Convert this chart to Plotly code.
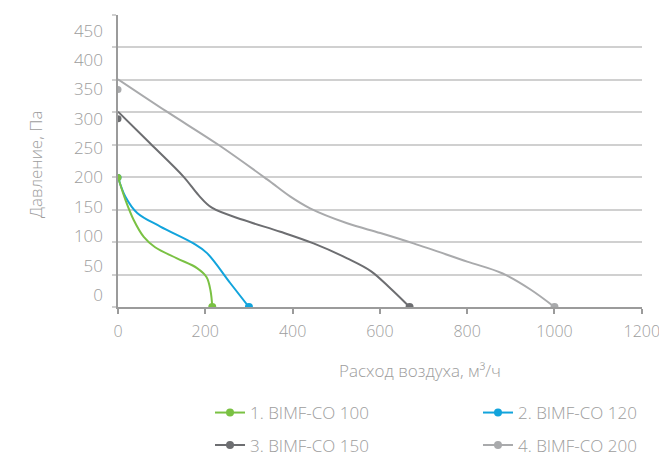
import plotly.graph_objects as go

# series names and colours
names = ["1. BIMF-CO 100", "2. BIMF-CO 120", "3. BIMF-CO 150", "4. BIMF-CO 200"]
colors = ["#7ac143", "#12a4dc", "#6d6e71", "#a9aaac"]

# airflow, m3/h
flow_100 = [0, 17, 36, 59, 85, 135, 181, 203, 212, 216]
flow_120 = [0, 17, 44, 97, 173, 204, 257, 300]
flow_150 = [0, 74, 150, 185, 215, 288, 372, 448, 525, 580, 625, 668]
flow_200 = [0, 112, 230, 341, 395, 440, 525, 601, 677, 800, 880, 945, 1000]

# pressure, Pa
pres_100 = [200, 165, 134, 108, 92, 75, 60, 46, 25, 0]
pres_120 = [200, 170, 145, 124, 98, 83, 37, 0]
pres_150 = [301, 252, 201, 172, 153, 134, 116, 98, 75, 55, 28, 0]
pres_200 = [351, 301, 250, 197, 170, 152, 129, 114, 98, 70, 52, 27, 0]

# start points as marked on the label scale
start_flow = [0, 0, 0, 0]
start_pres = [200, 200, 300, 350]

y_ticks = [0, 50, 100, 150, 200, 250, 300, 350, 400, 450]
x_ticks = [0, 200, 400, 600, 800, 1000, 1200]

TXT = "#9d9d9d"
GRID = "#d0d0d0"
AXIS = "#9b9b9b"
FONT = "Open Sans"

flows = [flow_100, flow_120, flow_150, flow_200]
pressures = [pres_100, pres_120, pres_150, pres_200]
legends = ["legend", "legend2", "legend3", "legend4"]

fig = go.Figure()

for i in [1, 0, 2, 3]:
    xs, ys = flows[i], pressures[i]
    fig.add_trace(go.Scatter(
        x=xs, y=ys,
        mode="lines+markers",
        name=names[i],
        legend=legends[i],
        line=dict(color=colors[i], width=2, shape="spline", smoothing=1.0),
        marker=dict(color=colors[i], size=8),
        selectedpoints=[len(xs) - 1],
        unselected=dict(marker=dict(opacity=0)),
        hoverinfo="skip",
    ))
    fig.add_trace(go.Scatter(
        x=[start_flow[i]], y=[start_pres[i]],
        yaxis="y2",
        mode="markers",
        showlegend=False,
        marker=dict(color=colors[i], size=7),
        hoverinfo="skip",
    ))

tfont = dict(family=FONT, size=17, color=TXT, weight=300)
xfont = dict(family=FONT, size=16, color=TXT, weight=300)

fig.update_layout(
    width=659, height=457,
    margin=dict(l=118, r=17, t=15, b=150, autoexpand=False),
    paper_bgcolor="white",
    plot_bgcolor="white",
    font=tfont,
    xaxis=dict(
        range=[0, 1200.5], tickvals=x_ticks,
        showgrid=False, zeroline=False,
        showline=True, linecolor=AXIS, linewidth=1.5,
        ticks="outside", ticklen=5, tickcolor=AXIS, tickwidth=1.5,
        tickfont=xfont,
        ticklabelstandoff=4, ticklabeloverflow="allow",
    ),
    yaxis=dict(
        range=[0, 450], tickvals=y_ticks,
        showgrid=True, gridcolor=GRID, gridwidth=1.5,
        zeroline=False,
        showline=True, linecolor=AXIS, linewidth=1.5,
        ticks="outside", ticklen=4, tickcolor=GRID, tickwidth=1.5,
        showticklabels=False,
    ),
    yaxis2=dict(
        overlaying="y", side="left",
        range=[-20.4, 476.6], tickvals=y_ticks,
        showgrid=False, zeroline=False, showline=False,
        ticks="", tickfont=tfont,
        ticklabelstandoff=14,
    ),
    annotations=[
        dict(text="Давление, Па", textangle=-90, xref="paper", yref="paper",
             x=-0.156, y=0.487, xanchor="center", yanchor="middle",
             showarrow=False, font=tfont),
        dict(text="Расход воздуха, м³/ч", xref="paper", yref="paper",
             x=0.577, y=-0.216, xanchor="center", yanchor="middle",
             showarrow=False, font=tfont),
    ],
)

leg_pos = {
    "legend": (0.1756, -0.363),
    "legend2": (0.687, -0.363),
    "legend3": (0.1756, -0.474),
    "legend4": (0.687, -0.474),
}
for key, (lx, ly) in leg_pos.items():
    fig.update_layout({key: dict(
        x=lx, y=ly, xanchor="left", yanchor="middle",
        orientation="h", bgcolor="rgba(0,0,0,0)", borderwidth=0,
        font=tfont,
    )})

# page body has a default 8px margin; drop it so the figure sits at the corner
fig.write_html("out.html", config={"displayModeBar": False},
               post_script="document.body.style.margin='0';")
